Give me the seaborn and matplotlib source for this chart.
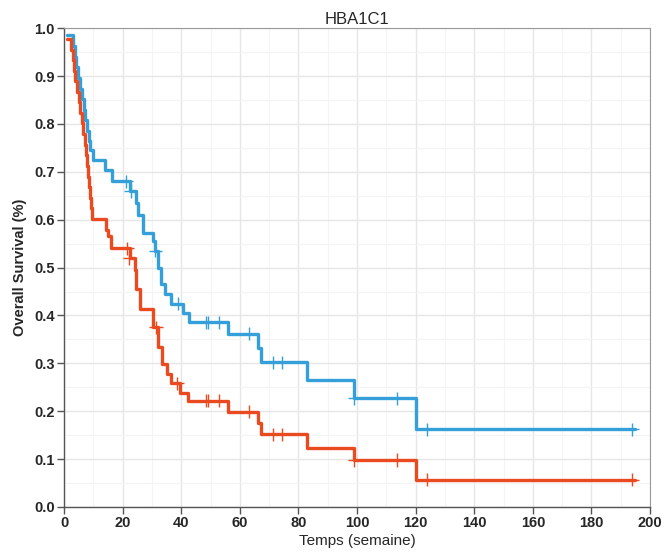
import matplotlib
matplotlib.use('Agg')
import matplotlib.pyplot as plt
from matplotlib.ticker import MultipleLocator
import seaborn as sns
import pandas as pd

# step times and survival levels (after each step)
blue_t = [1.0, 3.0, 3.6, 4.2, 4.9, 5.5, 6.2, 6.8, 7.3, 7.8, 8.4, 9.0, 9.9, 14.0, 16.4,
          22.5, 24.6, 25.2, 27.0, 30.4, 30.9, 32.0, 33.0, 34.5, 36.5, 40.5, 42.5,
          56.0, 66.3, 67.2, 82.8, 99.0, 120.0, 195.0]
blue_s = [0.985, 0.962, 0.940, 0.918, 0.896, 0.874, 0.852, 0.830, 0.808, 0.786, 0.764, 0.745,
          0.725, 0.703, 0.680, 0.660, 0.635, 0.610, 0.572, 0.555, 0.535, 0.500, 0.465, 0.445,
          0.425, 0.405, 0.386, 0.362, 0.332, 0.302, 0.265, 0.227, 0.162, 0.162]
blue_cens_t = [21.3, 22.8, 31.2, 38.8, 48.5, 49.2, 53.0, 63.0, 71.4, 74.4, 99.0, 113.7, 124.0, 194.0]
blue_cens_s = [0.680, 0.660, 0.535, 0.425, 0.386, 0.386, 0.386, 0.362, 0.302, 0.302, 0.227, 0.227, 0.162, 0.162]

red_t = [1.0, 2.3, 2.9, 3.4, 3.9, 4.5, 5.0, 5.6, 6.2, 6.6, 7.0, 7.4, 7.8, 8.2, 8.6, 9.0, 9.3,
         9.6, 14.3, 15.0, 16.2, 22.6, 24.3, 24.7, 26.0, 30.4, 32.0, 33.3, 35.0, 36.4, 39.6,
         42.3, 56.0, 66.3, 67.2, 82.8, 99.0, 120.0, 195.0]
red_s = [0.977, 0.955, 0.933, 0.911, 0.889, 0.867, 0.845, 0.823, 0.801, 0.779, 0.757, 0.735,
         0.713, 0.690, 0.668, 0.646, 0.624, 0.601, 0.578, 0.565, 0.540, 0.520, 0.495, 0.455,
         0.413, 0.375, 0.335, 0.298, 0.277, 0.258, 0.238, 0.222, 0.199, 0.175, 0.152, 0.123,
         0.098, 0.057, 0.057]
red_cens_t = [21.6, 22.3, 31.4, 38.6, 48.5, 49.2, 53.0, 63.0, 71.4, 74.4, 99.0, 113.7, 124.0, 194.0]
red_cens_s = [0.540, 0.520, 0.375, 0.258, 0.222, 0.222, 0.222, 0.199, 0.152, 0.152, 0.098, 0.098, 0.057, 0.057]

blue = '#349fd9'
red = '#ea4a20'

sns.set_style('white')
plt.rcParams['font.family'] = ['Liberation Sans', 'DejaVu Sans']

fig = plt.figure(figsize=(6.64, 5.53), dpi=100)
ax = fig.add_axes([0.0964, 0.0832, 0.8826, 0.8658])

curves = pd.DataFrame({'t': blue_t + red_t,
                       's': blue_s + red_s,
                       'g': ['blue'] * len(blue_t) + ['red'] * len(red_t)})
cens = pd.DataFrame({'t': blue_cens_t + red_cens_t,
                     's': blue_cens_s + red_cens_s,
                     'g': ['blue'] * len(blue_cens_t) + ['red'] * len(red_cens_t)})
pal = {'blue': blue, 'red': red}

sns.lineplot(data=curves, x='t', y='s', hue='g', palette=pal, drawstyle='steps-post',
             linewidth=2.4, legend=False, ax=ax, zorder=3)
sns.scatterplot(data=cens, x='t', y='s', hue='g', palette=pal, marker='+', s=90,
                linewidth=1.0, legend=False, ax=ax, zorder=4)

ax.set_xlim(0, 200)
ax.set_ylim(0, 1.0)
ax.xaxis.set_minor_locator(MultipleLocator(10))
ax.yaxis.set_minor_locator(MultipleLocator(0.05))
ax.set_xticks(range(0, 201, 20))
ax.set_xticklabels([str(v) for v in range(0, 201, 20)], fontweight='bold')
ax.set_yticks([i / 10 for i in range(11)])
ax.set_yticklabels([f'{i / 10:.1f}' for i in range(11)], fontweight='bold')
ax.grid(which='major', color='#e6e6e6', linewidth=1.0)
ax.grid(which='minor', color='#f4f4f4', linewidth=0.8)
ax.set_axisbelow(True)

for side in ['top', 'right']:
    ax.spines[side].set_color('#9a9a9a')
    ax.spines[side].set_linewidth(0.8)
for side in ['left', 'bottom']:
    ax.spines[side].set_color('#555555')
    ax.spines[side].set_linewidth(1.0)

ax.tick_params(which='major', direction='out', length=5, width=1, color='#555555',
               labelsize=10.5, pad=1.5, bottom=True, left=True)
ax.tick_params(which='minor', length=0)

ax.set_title('HBA1C1', fontsize=12, pad=3)
ax.set_xlabel('Temps (semaine)', fontsize=11, labelpad=3)
ax.set_ylabel('Overall Survival (%)', fontsize=10.5, fontweight='bold', labelpad=5)

fig.savefig('out.png', dpi=100)
